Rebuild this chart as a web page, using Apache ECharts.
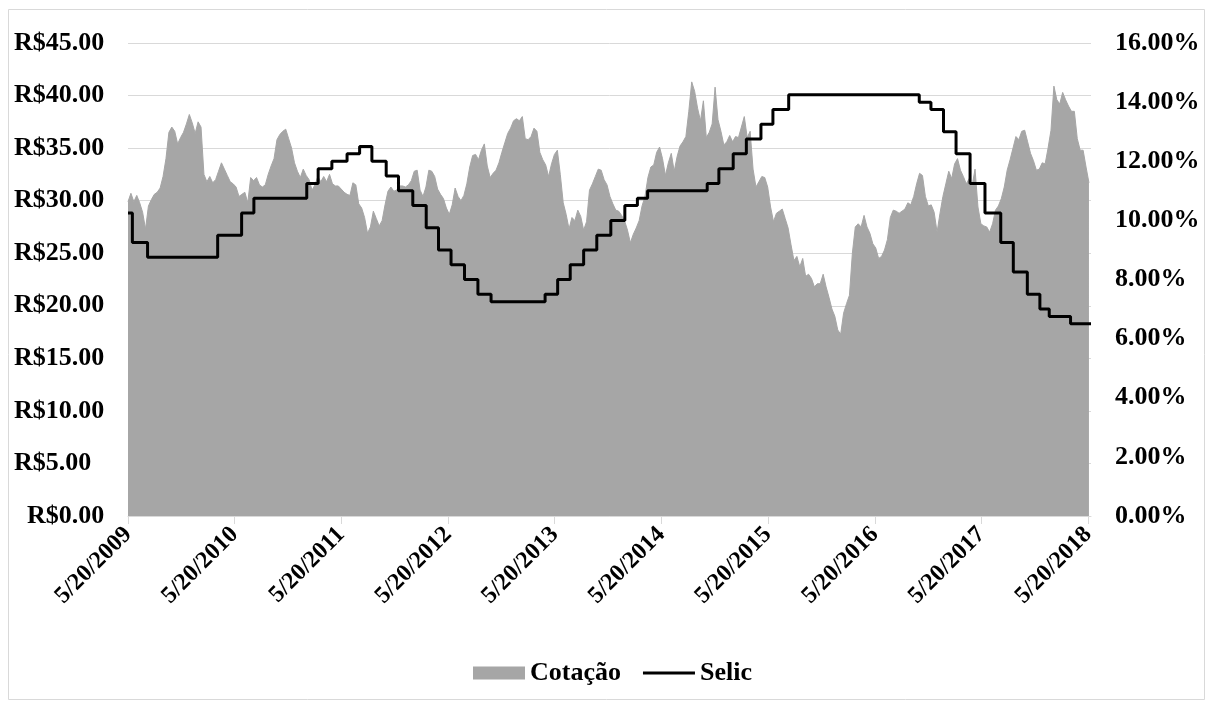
<!DOCTYPE html>
<html>
<head>
<meta charset="utf-8">
<script src="https://cdn.jsdelivr.net/npm/echarts@6/dist/echarts.min.js"></script>
<style>html,body{margin:0;padding:0;background:#fff;}#c{width:1211px;height:704px;}</style>
</head>
<body>
<div id="c"></div>
<script>
// ---- data ----
const startDate = '2009-05-20';
const cotacaoStepDays = 10; // one reading every 10 calendar days from startDate
const cotacao = [
29.9,30.7,29.9,30.5,29.8,28.9,27.3,29.5,30.1,30.6,
30.8,31.2,32.3,34.0,36.5,37.0,36.6,35.4,36.0,36.5,
37.3,38.2,37.4,36.4,37.5,37.0,32.5,31.8,32.3,31.7,
32.0,32.8,33.6,33.0,32.4,31.8,31.6,31.3,30.4,30.6,
30.8,29.8,32.2,31.9,32.2,31.5,31.3,31.5,32.5,33.3,
34.0,35.8,36.3,36.6,36.8,35.9,35.0,33.6,32.8,32.2,
33.0,32.4,32.0,31.0,31.5,32.3,
31.8,32.3,31.8,32.5,31.6,31.4,31.4,31.1,30.8,30.6,
30.5,31.7,31.5,29.7,29.3,28.4,26.9,27.5,29.0,28.3,
27.6,28.1,29.6,30.9,31.3,30.9,31.0,31.4,31.4,31.3,
31.5,31.9,32.8,32.9,31.0,30.4,31.3,32.9,32.8,32.3,
31.1,30.6,30.2,29.3,28.7,29.6,31.2,30.4,30.0,30.5,
31.6,33.2,34.3,34.4,33.9,34.8,35.4,33.3,32.2,32.6,
32.9,33.6,34.6,35.5,36.4,36.9,
37.6,37.8,37.6,38.0,35.9,35.8,36.1,36.9,36.6,34.6,
33.9,33.4,32.3,33.5,34.4,34.8,32.5,29.8,28.7,27.3,
28.4,28.1,29.1,28.5,27.2,28.0,31.0,31.6,32.3,33.0,
32.9,32.0,31.5,30.4,29.7,29.1,29.0,28.6,28.1,27.2,
26.0,26.8,27.4,28.1,29.5,30.4,32.2,33.2,33.4,34.6,
35.1,34.0,32.4,33.6,34.5,32.8,34.2,35.2,35.6,36.1,
38.5,41.3,40.4,38.8,37.6,39.5,
36.0,36.5,37.3,40.8,37.7,36.6,35.3,35.6,36.2,35.6,
36.1,36.0,37.0,38.0,36.0,36.6,33.0,31.3,31.8,32.3,
32.2,31.3,29.4,28.0,28.8,29.0,29.2,28.3,27.4,25.8,
24.3,24.7,23.7,24.5,22.8,23.0,22.6,21.8,22.1,22.1,
23.0,21.8,20.8,19.7,19.0,17.7,17.3,19.3,20.2,21.0,
25.0,27.5,27.8,27.5,28.6,27.5,26.9,25.9,25.5,24.5,
24.7,25.3,26.3,28.4,29.1,29.0,28.8,
29.0,29.2,29.8,29.6,30.4,31.6,32.6,32.4,30.4,29.5,
29.6,28.9,27.0,28.8,30.4,31.6,32.8,32.1,33.5,34.0,
32.9,32.3,31.6,32.1,31.4,33.0,29.4,27.8,27.6,27.5,
27.0,27.8,29.1,29.5,30.2,31.3,32.9,33.9,35.0,36.1,
35.8,36.6,36.7,35.6,34.5,33.8,32.9,33.0,33.6,33.5,
35.0,36.7,40.9,39.6,39.2,40.3,39.6,39.0,38.5,38.5,
35.9,34.8,34.8,33.2,31.7
];
// Selic: day offset (from startDate) where each rate starts, and the rate in %
const selicDay  = [0,15,67,307,389,431,612,651,698,750,793,835,884,926,975,1021,1063,1106,1152,1198,1243,1428,1471,1514,1560,1605,1653,1701,1744,1779,1983,2023,2072,2117,2167,2208,2262,2709,2749,2792,2835,2883,2934,2988,3031,3079,3122,3154,3227,3297];
const selicRate = [10.25,9.25,8.75,9.5,10.25,10.75,11.25,11.75,12.0,12.25,12.5,12.0,11.5,11.0,10.5,9.75,9.0,8.5,8.0,7.5,7.25,7.5,8.0,8.5,9.0,9.5,10.0,10.5,10.75,11.0,11.25,11.75,12.25,12.75,13.25,13.75,14.25,14.0,13.75,13.0,12.25,11.25,10.25,9.25,8.25,7.5,7.0,6.75,6.5,6.5];
const xTickLabels = ['5/20/2009','5/20/2010','5/20/2011','5/20/2012','5/20/2013','5/20/2014','5/20/2015','5/20/2016','5/20/2017','5/20/2018'];
const axisEndDay = 3297;

// ---- build ----
const DAY = 86400000;
const p = startDate.split('-').map(Number);
const t0 = Date.UTC(p[0], p[1]-1, p[2]);
const cotData = cotacao.map((v,i)=>[i*cotacaoStepDays, v]);
const selicData = selicDay.map((d,i)=>[d, selicRate[i]]);
const tickDays = xTickLabels.map(s=>{const q=s.split('/').map(Number);return Math.round((Date.UTC(q[2],q[0]-1,q[1]) - t0)/DAY);});
const fontFam = '"Liberation Serif","Times New Roman",serif';
const FS = 26;

const chart = echarts.init(document.getElementById('c'), null, {renderer:'canvas'});
chart.setOption({
  backgroundColor: '#ffffff',
  animation: false,
  graphic: [{type:'rect', shape:{x:8.5,y:9.5,width:1196,height:690}, style:{fill:'none', stroke:'#d9d9d9', lineWidth:1}, silent:true, z:-10}],
  grid: {left:128, right:120, top:43, bottom:188, containLabel:false},
  legend: {
    left: 468, top: 655,
    itemWidth: 52, itemHeight: 13, itemGap: 22,
    textStyle: {fontFamily: fontFam, fontWeight:'bold', fontSize:FS, color:'#000'},
    data: [{name:'Cotação', icon:'rect'}, {name:'Selic', icon:'path://M0,0h53v3h-53z'}]
  },
  xAxis: {
    type: 'value', min: 0, max: axisEndDay,
    splitLine: {show:false},
    axisLine: {lineStyle:{color:'#d9d9d9', width:1}},
    axisTick: {show:true, length:8, customValues: tickDays, lineStyle:{color:'#d9d9d9'}},
    axisLabel: {
      customValues: tickDays, rotate: 45, margin: 15,
      fontFamily: fontFam, fontWeight:'bold', fontSize:24, color:'#000',
      hideOverlap: false,
      formatter: function(v){ const i = tickDays.indexOf(Math.round(+v)); return i>=0 ? xTickLabels[i] : ''; }
    }
  },
  yAxis: [{
    type:'value', min:0, max:45, interval:5, position:'left',
    axisLine:{show:false}, axisTick:{show:false},
    splitLine:{lineStyle:{color:'#d9d9d9', width:1}},
    axisLabel:{
      margin:114, align:'left',
      fontFamily: fontFam, fontWeight:'bold', fontSize:FS, color:'#000',
      formatter: v => v===0 ? '{z|R$0.00}' : 'R$' + v.toFixed(2),
      rich:{z:{padding:[0,0,0,13], fontFamily: fontFam, fontWeight:'bold', fontSize:FS, color:'#000'}}
    }
  },{
    type:'value', min:0, max:16, interval:2, position:'right',
    axisLine:{show:false}, axisTick:{show:false}, splitLine:{show:false},
    axisLabel:{
      margin:24, align:'left',
      fontFamily: fontFam, fontWeight:'bold', fontSize:FS, color:'#000',
      formatter: v => v.toFixed(2) + '%'
    }
  }],
  series: [{
    name:'Cotação', type:'line', yAxisIndex:0, data: cotData,
    showSymbol:false, symbol:'none',
    lineStyle:{color:'#a6a6a6', width:1},
    itemStyle:{color:'#a6a6a6'},
    areaStyle:{color:'#a6a6a6', opacity:1},
    z:1
  },{
    name:'Selic', type:'line', yAxisIndex:1, data: selicData, step:'end',
    showSymbol:false, symbol:'none',
    lineStyle:{color:'#000', width:3},
    itemStyle:{color:'#000'},
    z:3
  }]
});
</script>
</body>
</html>
